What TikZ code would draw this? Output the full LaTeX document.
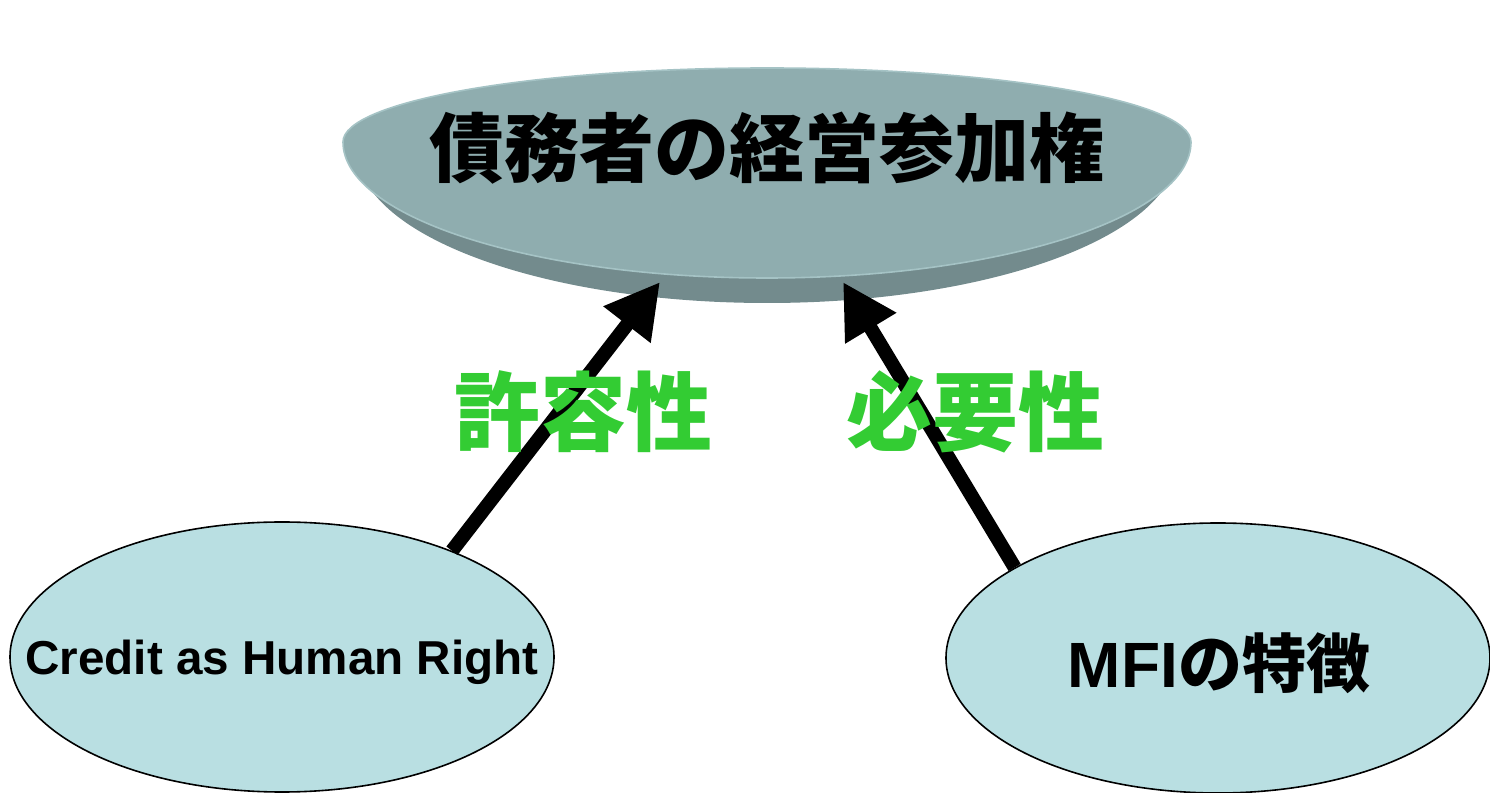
\documentclass[tikz,border=0pt]{standalone}
\usepackage{fontspec}
\setmainfont{Liberation Sans}
\newfontfamily\cjk{Noto Sans CJK JP}
\usetikzlibrary{shapes.geometric,arrows.meta}
\definecolor{discTop}{HTML}{8FADAF}
\definecolor{discSide}{HTML}{738B8D}
\definecolor{discRim}{HTML}{A5C3C5}
\definecolor{bubble}{HTML}{B9DFE2}
\definecolor{lblgreen}{HTML}{33CC33}
\tikzset{
  bubblenode/.style={ellipse, draw=black, line width=0.8pt, fill=bubble, inner sep=0pt, minimum width=272pt, minimum height=135pt},
  bigarrow/.style={line width=7pt, -{Triangle[length=27pt,width=28pt]}},
  greenlbl/.style={text=lblgreen, font=\cjk\bfseries\fontsize{43}{48}\selectfont, inner sep=0pt}
}
\begin{document}
\begin{tikzpicture}[x=0.5pt,y=0.5pt]
\useasboundingbox (0,0) rectangle (1490,793);
% 3D disc
\fill[discSide] (357,643) arc[start angle=180,end angle=360,x radius=410,y radius=153] -- cycle;
\fill[discTop] (343,651) arc[start angle=180,end angle=0,x radius=424,y radius=74]
  arc[start angle=360,end angle=180,x radius=424,y radius=136] -- cycle;
\draw[discRim, line width=0.8pt] (343,651) arc[start angle=180,end angle=0,x radius=424,y radius=74]
  arc[start angle=360,end angle=180,x radius=424,y radius=136] -- cycle;
\node[inner sep=0pt, font=\cjk\bfseries\fontsize{37.5}{44}\selectfont] (top) at (767,645) {債務者の経営参加権};
\coordinate (tipL) at (660,511);
\coordinate (tipR) at (843,511);
% bottom bubbles
\node[bubblenode] (left) at (282,136) {};
\node[font=\bfseries\fontsize{23.8}{28}\selectfont, inner sep=0pt] (lefttext) at (282,131) {Credit as Human Right};
\node[bubblenode] (right) at (1218,135) {};
\node[font=\bfseries\fontsize{32}{38}\selectfont, inner sep=0pt] (righttext) at (1219,130) {MFI{\cjk\bfseries の特徴}};
% arrows
\draw[bigarrow] (left.32) -- (tipL);
\draw[bigarrow] (right.156) -- (tipR);
% labels
\node[greenlbl] (lblL) at (583,381) {許容性};
\node[greenlbl] (lblR) at (975,381) {必要性};
\end{tikzpicture}
\end{document}
